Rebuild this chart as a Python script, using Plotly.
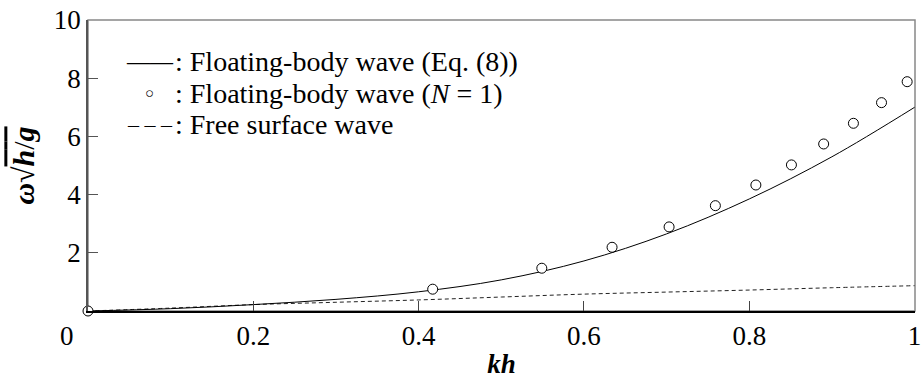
import plotly.graph_objects as go

# Floating-body wave, Eq. (8) (solid line)
kh_eq8 = [0.0, 0.1, 0.2, 0.3, 0.4, 0.5, 0.6, 0.7, 0.8, 0.9, 1.0]
w_eq8 = [0.0, 0.08, 0.22, 0.40, 0.66, 1.07, 1.72, 2.65, 3.85, 5.30, 7.00]

# Floating-body wave, N = 1 (circles)
kh_n1 = [0.0, 0.417, 0.549, 0.634, 0.703, 0.759, 0.808, 0.851, 0.890, 0.926, 0.960, 0.991]
w_n1 = [0.0, 0.75, 1.47, 2.19, 2.89, 3.62, 4.33, 5.02, 5.74, 6.45, 7.16, 7.88]

# Free surface wave (dashed line)
kh_free = [0.0, 0.1, 0.2, 0.3, 0.4, 0.5, 0.6, 0.7, 0.8, 0.9, 1.0]
w_free = [0.0, 0.10, 0.22, 0.30, 0.38, 0.48, 0.58, 0.65, 0.72, 0.80, 0.87]

x_ticks = [0.2, 0.4, 0.6, 0.8, 1.0]
x_ticktext = ["0.2", "0.4", "0.6", "0.8", "1"]
y_ticks = [2, 4, 6, 8, 10]
y_ticktext = ["2", "4", "6", "8", "10"]

# legend rows: symbol text, label text
legend_symbols = ["<span style='font-size:23px'>——</span>",
                  "<span style='font-size:15px'>○</span>",
                  "<span style='font-size:22px'>– – –</span>"]
legend_labels = [": Floating-body wave (Eq. (8))",
                 ": Floating-body wave (<i>N</i> = 1)",
                 ": Free surface wave"]
legend_rows_y = [0.858, 0.748, 0.640]

SERIF = "'Times New Roman', 'Liberation Serif', serif"

fig = go.Figure()
fig.add_trace(go.Scatter(
    x=kh_free, y=w_free, mode="lines", name="Free surface wave",
    line=dict(color="#222", width=1, dash="4px,3px"), line_shape="spline",
))
fig.add_trace(go.Scatter(
    x=kh_eq8, y=w_eq8, mode="lines", name="Floating-body wave (Eq. (8))",
    line=dict(color="black", width=1), line_shape="spline",
))
fig.add_trace(go.Scatter(
    x=kh_n1, y=w_n1, mode="markers", name="Floating-body wave (N = 1)",
    marker=dict(symbol="circle", size=10, color="white",
                line=dict(color="black", width=1)),
    cliponaxis=False,
))

annotations = [dict(text="0", x=0, y=0, xref="x", yref="y", showarrow=False,
                    xanchor="center", yanchor="middle", xshift=-21, yshift=-25,
                    font=dict(family=SERIF, size=27))]
for sym, lab, yy in zip(legend_symbols, legend_labels, legend_rows_y):
    annotations.append(dict(text=sym, x=0.0744, y=yy, xref="paper", yref="paper",
                            showarrow=False, xanchor="center", yanchor="middle",
                            font=dict(family=SERIF, size=26, color="black")))
    annotations.append(dict(text=lab, x=0.1032, y=yy, xref="paper", yref="paper",
                            showarrow=False, xanchor="left", yanchor="middle",
                            font=dict(family=SERIF, size=28, color="black")))

fig.update_layout(
    width=923, height=381,
    margin=dict(l=88, r=2, t=20, b=70),
    paper_bgcolor="white", plot_bgcolor="white",
    font=dict(family=SERIF, size=26, color="black"),
    showlegend=False,
    xaxis=dict(range=[0, 1.0005], tickvals=x_ticks, ticktext=x_ticktext,
               ticks="inside", ticklen=10, tickcolor="#444",
               ticklabeloverflow="allow",
               tickfont=dict(family=SERIF, size=27),
               showline=True, linecolor="black", linewidth=1.5,
               showgrid=False, zeroline=False,
               title=dict(text="<b><i>kh</i></b>", standoff=4,
                          font=dict(family=SERIF, size=27))),
    yaxis=dict(range=[0, 10], tickvals=y_ticks, ticktext=y_ticktext,
               ticks="inside", ticklen=10, tickcolor="#555",
               tickfont=dict(family=SERIF, size=27),
               showline=True, linecolor="#555", linewidth=1.5,
               showgrid=False, zeroline=False,
               title=dict(text="<b><i>ω</i></b>√<span style='text-decoration:overline'><b><i>h</i></b>/<b><i>g</i></b></span>",
                          standoff=10, font=dict(family=SERIF, size=30))),
    shapes=[dict(type="rect", xref="paper", yref="paper", x0=0, y0=0, x1=1, y1=1,
                 line=dict(color="#888", width=1.5), layer="below")],
    annotations=annotations,
)

fig.write_html("out.html")
